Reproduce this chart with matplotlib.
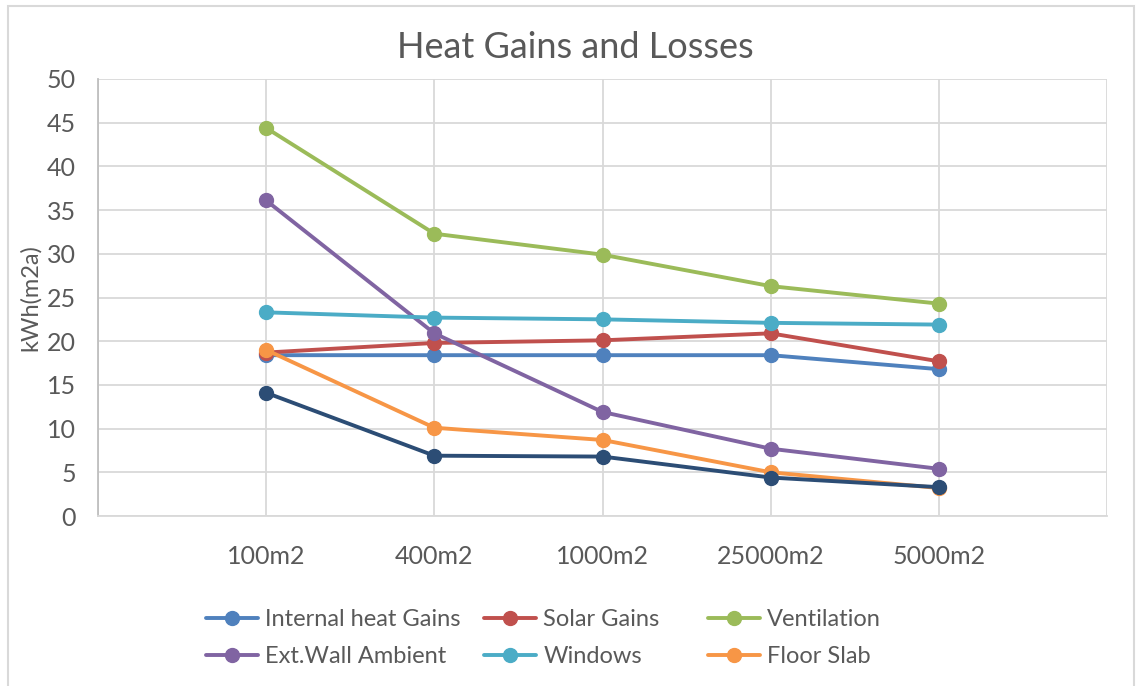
import matplotlib
matplotlib.use("Agg")
import matplotlib.pyplot as plt
from matplotlib.patches import Rectangle
import numpy as np

categories = ["100m2", "400m2", "1000m2", "25000m2", "5000m2"]
internal_heat_gains = [18.4, 18.4, 18.4, 18.4, 16.8]
solar_gains = [18.7, 19.8, 20.1, 20.9, 17.7]
ventilation = [44.4, 32.3, 29.9, 26.3, 24.3]
ext_wall_ambient = [36.1, 20.9, 11.9, 7.7, 5.4]
windows = [23.3, 22.7, 22.5, 22.1, 21.9]
floor_slab = [19.0, 10.1, 8.7, 5.0, 3.2]
unnamed_series = [14.1, 6.9, 6.8, 4.4, 3.3]

series = [
    ("Internal heat Gains", internal_heat_gains, "#4F81BD"),
    ("Solar Gains", solar_gains, "#C0504D"),
    ("Ventilation", ventilation, "#9BBB59"),
    ("Ext.Wall Ambient", ext_wall_ambient, "#8064A2"),
    ("Windows", windows, "#4BACC6"),
    ("Floor Slab", floor_slab, "#F79646"),
    ("_nolegend_", unnamed_series, "#2C4D75"),
]

plt.rcParams['font.family'] = ['Lato', 'DejaVu Sans']
text_color = "#595959"

fig = plt.figure(figsize=(11.41, 6.86), dpi=100)
ax = fig.add_axes([98/1141, 1-516/686, (1107-98)/1141, (516-79)/686])

x = np.arange(1, len(categories) + 1)
handles = {}
for name, vals, col in series:
    h, = ax.plot(x, vals, color=col, lw=2.8, marker='o', ms=10,
                 solid_capstyle='round', label=name, zorder=3)
    handles[name] = h

ax.set_xlim(0, len(categories) + 1)
ax.set_ylim(0, 50)
ax.set_yticks(np.arange(0, 51, 5))
ax.set_xticks(np.arange(0, len(categories) + 2))
ax.set_xticklabels([""] + categories + [""])
ax.grid(True, color="#D9D9D9", lw=1.3, zorder=0)
ax.set_axisbelow(True)
ax.tick_params(axis='both', length=0, labelsize=18, colors=text_color)
ax.tick_params(axis='x', pad=21)
ax.tick_params(axis='y', pad=16)
for s in ['top', 'right']:
    ax.spines[s].set_visible(False)
ax.spines['left'].set_color("#BFBFBF")
ax.spines['left'].set_linewidth(1.3)
ax.spines['bottom'].set_color("#D9D9D9")
ax.spines['bottom'].set_linewidth(1.3)

ax.set_ylabel("kWh(m2a)", fontsize=17, color=text_color, labelpad=4)
fig.text(575/1141, 1-48/686, "Heat Gains and Losses", fontsize=26,
         color=text_color, ha='center', va='center')

leg_kw = dict(frameon=False, fontsize=17, handlelength=2.2, handletextpad=0.3,
              borderpad=0, borderaxespad=0, labelspacing=0.68,
              labelcolor=text_color, loc='upper left')
h1 = [handles["Internal heat Gains"], handles["Ext.Wall Ambient"],
      handles["Solar Gains"], handles["Windows"]]
fig.legend(h1, [h.get_label() for h in h1], ncol=2, columnspacing=1.0,
           bbox_to_anchor=(206/1141, 1-609/686), **leg_kw)
h2 = [handles["Ventilation"], handles["Floor Slab"]]
fig.legend(h2, [h.get_label() for h in h2], ncol=1,
           bbox_to_anchor=(708/1141, 1-609/686), **leg_kw)

fig.patches.append(Rectangle((8/1141, -0.01), (1134-8)/1141, 1-6/686 + 0.01,
                             transform=fig.transFigure, fill=False,
                             edgecolor="#D9D9D9", lw=1.5))

fig.savefig("out.png", dpi=100, facecolor="white")
